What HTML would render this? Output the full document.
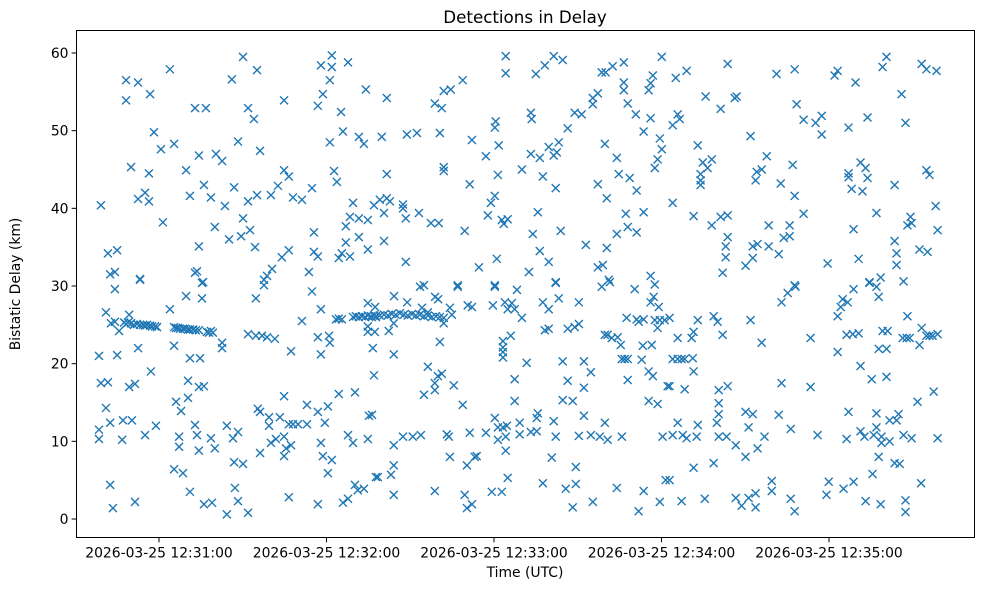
<!DOCTYPE html>
<html><head><meta charset="utf-8"><style>
body{margin:0;background:#fff;}
svg{display:block;font-family:"DejaVu Sans","Liberation Sans",sans-serif;}
</style></head><body>
<svg id="chart" width="989" height="590" viewBox="0 0 989 590" xmlns="http://www.w3.org/2000/svg">
<rect width="989" height="590" fill="#fff"/>
<text x="525" y="23" text-anchor="middle" font-size="16.7" fill="#000">Detections in Delay</text>
<g id="marks"></g>
<g id="axes"></g>
<rect x="76.5" y="30.5" width="898" height="507" fill="none" stroke="#000" stroke-width="1"/>
<text x="525" y="577" text-anchor="middle" font-size="13.9" fill="#000">Time (UTC)</text>
<text transform="translate(20,284) rotate(-90)" text-anchor="middle" font-size="13.9" fill="#000">Bistatic Delay (km)</text>
</svg>
<script>
// seconds after 12:30:00
const xTickSecs = [60, 120, 180, 240, 300];
const xTickLabels = ["2026-03-25 12:31:00","2026-03-25 12:32:00","2026-03-25 12:33:00","2026-03-25 12:34:00","2026-03-25 12:35:00"];
const yTicks = [0, 10, 20, 30, 40, 50, 60];
// [seconds after 12:30:00, bistatic delay km]
const detections = [
[90.1,59.5],[63.9,57.9],[48.2,56.5],[52.5,56.2],[86.1,56.6],[95.1,57.8],[121.9,59.7],[118.0,58.4],[121.9,58.2],[127.7,58.8],[121.2,56.5],[134.1,55.3],[118.7,54.7],[56.8,54.7],[48.2,53.9],[72.9,52.9],[76.8,52.9],[91.9,52.9],[94.0,51.5],[104.8,53.9],[116.9,53.2],[125.2,52.4],
[58.2,49.8],[60.7,47.6],[65.4,48.3],[74.3,46.8],[80.4,47.0],[82.6,46.1],[88.3,48.6],[96.2,47.4],[121.2,48.5],[125.9,49.9],[131.6,49.2],[133.4,48.3],[50.0,45.3],[56.4,44.5],[69.7,44.9],[76.1,43.0],[86.9,42.7],[104.8,44.9],[106.5,44.1],[102.6,42.9],[122.7,44.8],[123.7,43.4],[114.8,42.6],
[39.2,40.4],[52.5,41.2],[55.0,42.0],[56.4,40.9],[71.1,41.6],[78.6,41.4],[83.6,40.3],[91.9,40.9],[95.1,41.7],[100.1,41.7],[108.0,41.4],[111.2,41.1],[129.5,40.7],[137.0,40.4],[61.4,38.2],[80.0,37.6],[90.1,38.7],[92.6,37.2],[85.1,36.0],[89.4,36.4],[94.4,35.0],[74.3,35.1],[115.5,36.9],[126.9,37.7],[128.4,38.9],[131.6,38.7],[134.8,38.5],[131.6,36.3],[126.9,35.6],[134.8,34.7],
[41.7,34.2],[45.0,34.6],[104.0,33.7],[106.5,34.6],[115.5,34.4],[116.9,33.8],[124.4,33.6],[125.5,34.2],[128.4,33.8],[42.5,31.5],[44.2,31.8],[53.2,30.9],[72.9,31.7],[73.6,31.9],[75.8,30.5],[97.6,30.8],[98.7,31.3],[100.5,32.2],[113.7,31.8],
[44.2,29.6],[53.2,30.8],[75.4,30.4],[69.7,28.7],[75.4,28.4],[94.7,28.4],[97.6,30.1],[114.8,29.3],[41.0,26.6],[63.9,27.0],[118.0,27.0],[134.8,27.8],
[42.8,25.2],[44.2,25.4],[47.5,25.3],[48.2,25.1],[48.9,25.3],[50.0,25.2],[51.0,25.0],[52.1,25.1],[53.2,25.0],[54.3,25.0],[55.0,24.9],[55.7,25.0],[56.8,24.9],[57.5,24.8],[58.6,24.8],[59.3,24.7],[49.3,26.3],[45.7,24.2],
[65.4,24.7],[66.1,24.6],[66.8,24.6],[67.5,24.5],[68.6,24.5],[69.3,24.5],[70.4,24.4],[71.1,24.4],[72.2,24.4],[73.2,24.3],[74.3,24.3],[77.2,24.1],[77.9,24.0],[78.6,24.2],[79.3,24.0],
[82.6,22.7],[82.6,22.0],[91.9,23.8],[94.7,23.6],[96.9,23.6],[98.7,23.4],[101.5,23.2],[111.2,25.5],[107.3,21.6],[116.9,23.4],[120.9,23.6],[121.2,22.7],[118.0,21.2],[123.4,25.7],[124.4,25.8],[125.5,25.7],
[129.5,26.0],[130.5,26.1],[131.6,26.0],[132.7,26.1],[133.8,26.0],[134.8,26.2],[135.9,26.1],[137.0,26.2],[137.7,26.0],[134.8,24.8],[134.8,24.1],[136.6,22.0],
[38.5,21.0],[45.0,21.1],[52.5,22.0],[65.4,22.3],[71.1,20.7],[74.7,20.7],[57.1,19.0],[39.2,17.5],[41.7,17.6],[49.3,17.0],[51.4,17.4],[70.4,17.8],[74.3,17.0],[76.1,17.1],[137.0,18.5],
[66.1,15.1],[70.4,15.6],[67.9,13.9],[41.0,14.3],[104.8,15.8],[124.4,16.1],[130.2,16.3],[113.0,14.7],[120.5,14.5],[116.9,13.8],[96.2,13.8],[95.4,14.2],[99.4,13.1],[103.3,13.1],[99.4,12.0],[106.5,12.2],[108.0,12.2],[109.8,12.2],[113.0,12.2],[119.4,12.4],[135.2,13.3],
[42.5,12.4],[47.1,12.7],[50.3,12.7],[38.5,11.5],[38.5,10.3],[46.8,10.2],[55.0,10.8],[58.9,12.0],[72.9,12.1],[67.2,10.6],[73.6,10.8],[78.6,10.4],[84.3,12.0],[86.5,10.4],[88.3,11.2],[67.2,9.3],[74.3,8.8],[80.0,9.1],
[100.1,9.8],[101.9,10.3],[104.8,10.6],[107.3,9.5],[105.5,9.1],[96.2,8.5],[104.8,8.1],[118.0,9.8],[118.7,8.1],[121.9,7.6],[120.5,5.9],[127.7,10.8],[129.5,9.8],[134.8,10.3],
[86.9,7.3],[90.1,7.1],[65.4,6.4],[68.6,5.9],[42.5,4.4],[87.2,4.0],[71.1,3.5],[106.5,2.8],[130.2,4.4],[131.2,3.7],[133.4,3.9],[127.7,2.6],[125.9,2.1],[43.5,1.4],[51.4,2.2],[76.1,1.9],[79.0,2.1],[88.3,2.3],[84.3,0.6],[91.9,0.8],[116.9,1.9],[137.7,5.4],
[184.2,59.6],[184.2,57.4],[195.0,57.3],[198.2,58.4],[201.4,59.6],[204.6,59.1],[168.8,56.5],[164.5,55.3],[162.0,55.1],[158.8,53.5],[161.3,52.9],[141.6,54.2],[139.8,49.2],[148.8,49.5],[152.4,49.7],[160.6,49.7],[172.1,48.8],[180.6,51.2],[180.3,50.4],[181.7,48.1],[177.1,46.7],
[193.2,52.3],[193.5,51.5],[206.4,50.3],[208.9,52.3],[211.4,52.1],[215.4,54.2],[217.2,54.8],[215.4,53.4],[218.6,57.5],[220.0,57.5],[222.5,58.3],[226.5,58.8],[226.5,56.2],[226.5,55.2],[236.9,57.1],[236.1,56.1],[235.4,55.2],[240.1,59.5],[227.9,53.5],[230.8,52.1],[236.1,51.6],[233.6,49.9],[239.4,49.0],[240.1,47.6],[238.6,46.3],[237.6,45.2],[219.7,48.3],[224.0,46.5],
[193.2,47.0],[196.4,46.5],[199.6,47.9],[203.2,48.5],[201.4,46.8],[202.5,47.2],[190.0,45.0],[197.5,44.1],[202.1,42.6],[181.4,44.3],[171.3,43.1],[162.0,45.3],[162.0,44.8],[141.6,44.4],[217.2,43.1],[224.7,44.4],[228.6,43.9],[231.1,42.3],[220.4,41.3],
[139.1,41.1],[141.6,41.3],[142.7,40.9],[140.6,39.4],[147.4,40.5],[147.4,40.0],[148.4,38.7],[153.1,39.4],[157.4,38.1],[160.2,38.1],[180.3,41.6],[178.9,40.7],[177.8,39.1],[182.8,38.5],[184.9,38.6],[183.5,38.0],[195.7,39.5],[169.5,37.1],[193.9,36.7],[203.9,37.1],[227.2,39.3],[233.6,39.5],[227.9,37.6],[231.1,36.9],[224.0,36.7],
[212.9,35.3],[220.4,34.9],[196.4,34.5],[199.6,33.1],[181.0,33.5],[174.6,32.4],[148.4,33.1],[140.6,35.8],[192.5,31.8],[217.2,32.4],[219.0,32.7],[221.1,30.8],[236.1,31.3],[202.1,30.5],[154.9,30.1],[167.0,30.1],[180.3,30.1],
[136.3,26.0],[137.7,26.1],[139.1,26.2],[140.6,26.3],[142.0,26.2],[143.4,26.4],[144.8,26.3],[146.3,26.5],[147.7,26.3],[149.1,26.2],[150.6,26.4],[152.0,26.2],[153.4,26.3],[154.9,26.1],[156.3,26.2],[157.7,26.0],[159.2,26.1],[160.6,26.0],[162.0,25.9],
[137.4,27.3],[144.2,28.7],[148.9,27.9],[153.5,29.9],[158.9,28.6],[160.0,28.3],[167.0,29.9],[164.2,27.2],[164.9,26.3],[162.0,25.2],[154.2,27.2],[156.3,26.6],[144.1,25.2],[142.3,24.2],[137.3,24.1],[144.1,21.2],[160.6,22.8],
[170.6,27.5],[172.1,27.3],[179.6,27.5],[180.3,29.9],[188.2,29.5],[183.9,27.9],[186.4,27.8],[184.9,27.0],[187.4,27.0],[190.0,25.9],[183.2,22.9],[183.2,22.1],[183.2,21.5],[183.2,20.8],[186.0,23.6],[191.7,20.1],
[197.5,27.9],[199.6,27.0],[203.2,28.4],[202.1,30.4],[210.4,27.9],[198.2,24.3],[199.6,24.5],[206.4,24.5],[208.9,24.7],[210.4,25.1],[218.6,29.9],[221.5,30.5],[230.4,29.6],[237.6,30.2],[237.2,28.6],[236.1,27.9],[239.0,27.3],
[227.5,25.9],[231.1,25.7],[233.6,25.7],[231.8,25.4],[237.6,25.6],[239.4,25.6],[241.1,25.6],[238.6,24.6],[219.7,23.7],[220.7,23.7],[222.2,23.3],[224.3,23.4],[225.4,22.4],[233.3,22.3],[236.5,22.4],[225.8,20.6],[226.8,20.6],[227.9,20.6],[232.9,20.5],
[204.6,20.3],[212.2,20.3],[214.7,18.9],[206.4,17.8],[212.2,16.9],[227.9,17.9],[235.4,19.0],[236.9,18.4],[242.2,17.1],[156.3,19.6],[159.9,18.4],[161.3,18.7],[158.8,17.5],[158.8,16.6],[154.9,16.0],[165.6,17.2],[187.4,18.0],[187.4,15.2],[168.8,14.7],[204.6,15.3],[208.2,15.2],[235.4,15.2],[238.6,14.8],
[136.3,13.4],[180.3,13.0],[181.4,11.8],[183.2,11.8],[184.6,12.0],[189.2,12.4],[195.7,13.6],[195.3,13.0],[201.4,12.6],[212.2,13.3],[219.7,12.4],
[144.1,9.5],[147.4,10.6],[150.9,10.6],[153.8,10.8],[163.1,10.9],[163.8,10.6],[171.3,11.1],[177.1,11.1],[181.4,10.2],[184.2,10.6],[189.2,10.9],[193.2,11.2],[195.3,11.3],[202.1,10.6],[210.4,10.7],[214.7,10.8],[217.9,10.6],[220.7,10.2],[225.8,10.6],[240.4,10.6],
[164.2,8.0],[170.3,6.9],[173.1,8.0],[173.8,8.1],[184.2,8.8],[200.7,7.9],[209.3,6.7],[144.1,6.9],[143.1,5.7],[138.4,5.4],[184.9,5.3],[197.5,4.6],[205.7,3.9],[209.3,4.5],[224.0,4.0],[233.6,3.6],[241.5,5.0],
[158.8,3.6],[169.5,3.1],[179.2,3.5],[182.8,3.5],[144.1,3.1],[170.3,1.4],[172.1,1.9],[208.2,1.5],[215.4,2.2],[231.8,1.0],[239.4,2.2],
[245.1,56.8],[249.0,57.7],[263.7,58.6],[281.2,57.3],[287.7,57.9],[302.0,57.1],[303.1,57.7],[309.5,56.2],[319.2,58.2],[320.6,59.5],[333.2,58.6],[334.9,57.9],[338.5,57.7],[326.0,54.7],[327.4,51.0],[313.8,51.7],[307.0,50.4],[297.4,51.9],[295.2,51.0],[297.4,49.5],[290.9,51.4],[288.4,53.4],
[255.8,54.4],[266.2,54.2],[266.9,54.4],[261.2,52.8],[245.8,52.1],[246.5,51.5],[244.0,50.7],[271.9,49.3],[253.0,48.1],[254.8,45.9],[258.0,46.3],[256.5,45.2],[254.0,44.4],[254.0,43.6],[254.0,43.0],[277.7,46.7],[274.1,44.7],[273.7,43.6],[275.9,45.0],[287.0,45.6],[282.7,43.2],[287.7,41.6],
[307.0,44.5],[307.0,44.0],[311.3,45.9],[313.1,45.2],[313.8,43.9],[308.1,42.5],[312.0,42.2],[323.5,43.0],[334.9,44.9],[336.0,44.3],
[244.0,40.7],[251.5,39.0],[258.0,37.8],[261.2,38.9],[263.7,39.1],[290.9,39.3],[278.4,37.8],[285.9,37.8],[283.8,36.2],[285.9,36.4],[278.4,35.1],[282.0,34.1],[272.7,35.1],[274.4,35.4],[263.7,36.3],[263.0,35.1],[263.0,33.7],[272.7,33.6],[270.1,32.6],[261.9,31.7],
[299.5,32.9],[310.6,33.5],[308.8,37.3],[317.0,39.4],[329.2,38.9],[328.1,37.8],[329.6,38.1],[338.2,40.3],[338.9,37.2],[323.5,35.8],[324.2,34.2],[324.2,32.7],[332.4,34.7],[335.3,34.4],[318.5,31.1],[314.5,30.5],[326.7,30.6],[287.7,30.1],
[283.0,27.9],[285.2,29.1],[288.0,29.9],[308.8,29.6],[314.5,30.4],[317.0,29.9],[317.8,28.6],[304.9,28.3],[306.7,27.9],[304.2,27.3],[303.1,26.1],[328.1,26.1],
[253.0,25.6],[258.7,26.1],[260.1,25.4],[271.9,25.6],[242.9,25.9],[251.5,24.1],[250.8,23.3],[245.8,23.3],[261.9,23.7],[275.9,22.7],[293.4,23.3],[306.3,23.7],[308.5,23.8],[310.6,23.9],[319.2,24.2],[321.0,24.2],[326.4,23.3],[327.8,23.3],[328.9,23.3],[333.2,24.6],[332.4,22.4],[334.9,23.6],[336.0,23.6],[337.1,23.6],[338.9,23.8],
[317.8,21.9],[320.6,21.9],[303.1,21.5],[311.3,19.7],[315.3,18.0],[320.6,18.3],[244.0,20.6],[245.8,20.6],[247.2,20.6],[248.3,20.6],[251.2,20.7],[251.5,19.0],[242.9,17.1],[248.3,16.7],[260.5,16.6],[263.7,17.1],[283.0,17.5],[293.4,17.0],[337.5,16.4],[331.7,15.1],
[260.5,14.9],[260.5,13.5],[259.8,12.4],[270.1,13.8],[272.7,13.5],[271.2,11.8],[282.0,13.4],[286.3,11.6],[245.8,12.4],[253.0,12.1],[244.0,10.8],[247.6,10.8],[249.0,10.4],[252.6,10.6],[260.5,10.6],[263.3,10.6],[266.6,9.5],[276.9,10.6],[274.4,9.1],[270.1,8.0],[295.9,10.8],
[307.0,13.8],[317.0,13.6],[317.0,11.8],[321.7,12.7],[324.9,13.5],[324.2,12.7],[311.3,11.3],[306.3,10.3],[312.7,10.6],[316.0,10.8],[318.8,10.6],[318.8,9.8],[321.7,10.0],[317.8,8.0],[326.7,10.8],[329.6,10.4],[338.9,10.4],[323.5,7.2],[325.3,7.1],[315.6,5.8],[333.0,4.6],
[251.5,6.6],[258.7,7.2],[242.9,5.0],[279.5,4.9],[279.5,3.6],[299.9,4.8],[299.1,3.1],[305.2,3.9],[308.8,4.8],[247.2,2.3],[255.5,2.6],[266.6,2.7],[268.7,1.7],[271.2,2.7],[273.7,3.3],[273.7,1.5],[286.3,2.6],[287.7,1.0],[313.1,2.3],[318.5,1.9],[327.4,2.4],[327.4,0.9]
];

const NS = "http://www.w3.org/2000/svg";
const PL = 76.5, PR = 974.5, PT = 30.5, PB = 537.5;
function xScale(t){ return 159 + (t - 60) * (670 / 240); }
function yScale(v){ return 519 - v * (466 / 60); }

const marks = document.getElementById('marks');
detections.forEach(function(d){
  const x = xScale(d[0]), y = yScale(d[1]), r = 4;
  const p = document.createElementNS(NS, 'path');
  p.setAttribute('d', 'M' + (x-r) + ' ' + (y-r) + 'L' + (x+r) + ' ' + (y+r) + 'M' + (x-r) + ' ' + (y+r) + 'L' + (x+r) + ' ' + (y-r));
  p.setAttribute('stroke', '#1f77b4');
  p.setAttribute('stroke-width', '1.4');
  p.setAttribute('fill', 'none');
  
  
  marks.appendChild(p);
});

const axes = document.getElementById('axes');
xTickSecs.forEach(function(t, i){
  const x = xScale(t);
  const l = document.createElementNS(NS, 'line');
  l.setAttribute('x1', x); l.setAttribute('x2', x);
  l.setAttribute('y1', PB); l.setAttribute('y2', PB + 4.9);
  l.setAttribute('stroke', '#000'); l.setAttribute('stroke-width', '1');
  
  
  axes.appendChild(l);
  const tx = document.createElementNS(NS, 'text');
  tx.setAttribute('x', x); tx.setAttribute('y', PB + 20);
  tx.setAttribute('text-anchor', 'middle'); tx.setAttribute('font-size', '13.9');
  tx.textContent = xTickLabels[i];
  
  
  axes.appendChild(tx);
});
yTicks.forEach(function(v){
  const y = yScale(v);
  const l = document.createElementNS(NS, 'line');
  l.setAttribute('x1', PL - 4.9); l.setAttribute('x2', PL);
  l.setAttribute('y1', y); l.setAttribute('y2', y);
  l.setAttribute('stroke', '#000'); l.setAttribute('stroke-width', '1');
  
  
  axes.appendChild(l);
  const tx = document.createElementNS(NS, 'text');
  tx.setAttribute('x', PL - 8); tx.setAttribute('y', y + 5);
  tx.setAttribute('text-anchor', 'end'); tx.setAttribute('font-size', '13.9');
  tx.textContent = String(v);
  
  
  axes.appendChild(tx);
});
</script>
</body></html>
